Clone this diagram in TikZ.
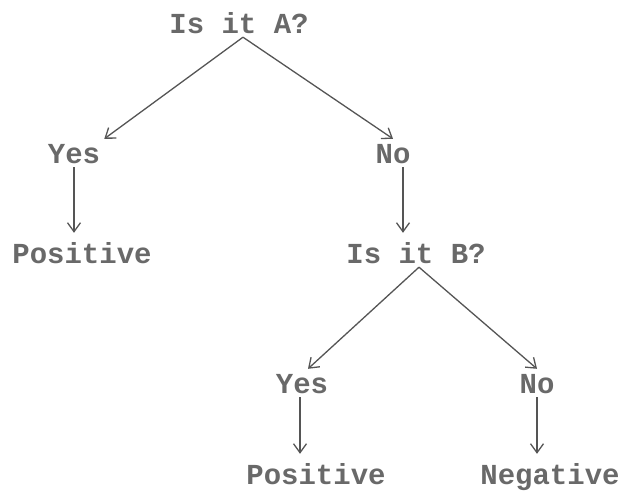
\documentclass[tikz,border=0pt]{standalone}
\usepackage{fontspec}
\setmonofont{Liberation Mono}
\usepackage{tikz}
\usetikzlibrary{arrows.meta}

\definecolor{inkgray}{RGB}{105,105,105}
\definecolor{linegray}{RGB}{85,85,85}

\begin{document}
\begin{tikzpicture}[x=1pt, y=-1pt,
  word/.style={anchor=base, inner sep=4pt, text height=20pt, text depth=0pt,
    text=inkgray, font=\ttfamily\bfseries\fontsize{29}{30}\selectfont},
  arr/.style={draw=linegray, line width=1.3pt,
    -{Straight Barb[length=9pt,width=13pt,line width=1.3pt]}},
  down/.style={arr, shorten >=6pt}]
  \useasboundingbox (0,0) rectangle (629,496);
  \node[word] (qa) at (239,33) {Is it A?};
  \node[word] (ya) at (74,163) {Yes};
  \node[word] (na) at (393,163) {No};
  \node[word] (pa) at (82,263) {Positive};
  \node[word] (qb) at (416,263) {Is it B?};
  \node[word] (yb) at (302,393) {Yes};
  \node[word] (nb) at (537,393) {No};
  \node[word] (pb) at (316,484) {Positive};
  \node[word] (nn) at (550,484) {Negative};
  \draw[arr] ([xshift=4pt]qa.south) -- (ya.north east);
  \draw[arr] ([xshift=4pt]qa.south) -- (na.north);
  \draw[down] (ya.south) -- (ya.south |- pa.north);
  \draw[down] ([xshift=10pt]na.south) -- ([xshift=10pt]na.south |- qb.north);
  \draw[arr] ([xshift=3pt]qb.south) -- ([xshift=6pt]yb.north);
  \draw[arr] ([xshift=3pt]qb.south) -- (nb.north);
  \draw[down] ([xshift=-2pt]yb.south) -- ([xshift=-2pt]yb.south |- pb.north);
  \draw[down] (nb.south) -- (nb.south |- nn.north);
\end{tikzpicture}
\end{document}
